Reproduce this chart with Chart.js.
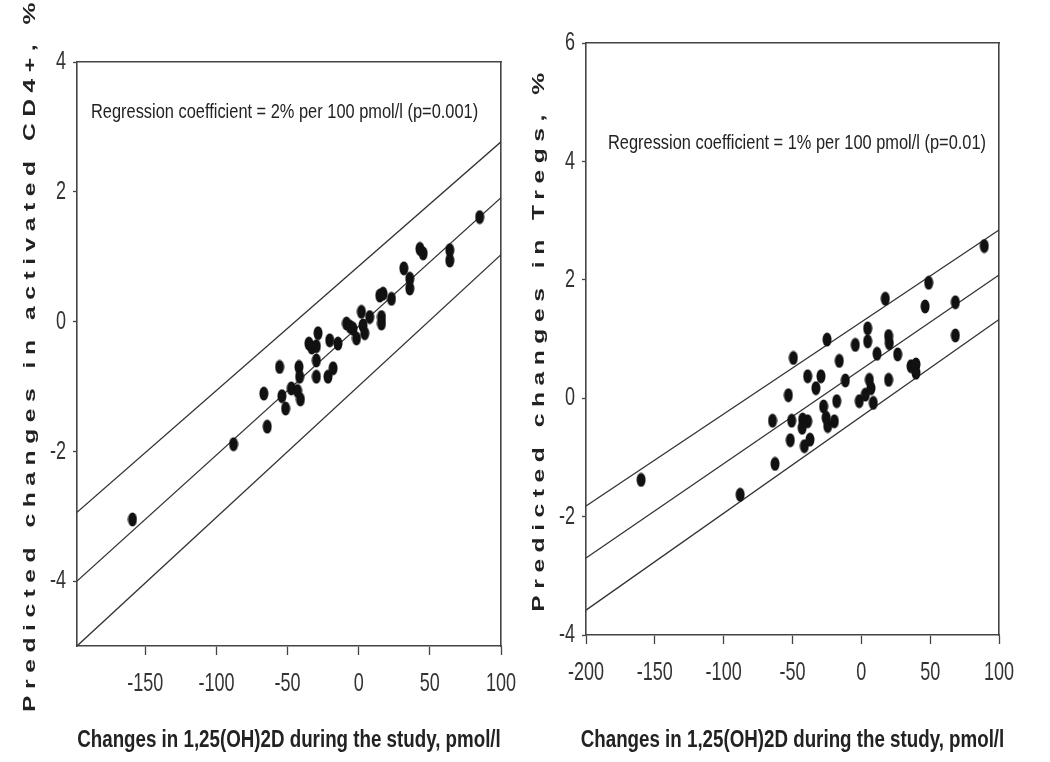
<!DOCTYPE html>
<html>
<head>
<meta charset="utf-8">
<script src="https://cdn.jsdelivr.net/npm/chart.js@4.4.1/dist/chart.umd.min.js"></script>
<style>
  html, body { margin: 0; padding: 0; background: #fff; }
  #wrap { position: relative; width: 1050px; height: 762px; }
  .panel { position: absolute; top: 0; width: 525px; height: 762px; }
  #p1 { left: 0; }
  #p2 { left: 525px; }
</style>
</head>
<body>
<div id="wrap">
  <div class="panel" id="p1"><canvas id="c1"></canvas></div>
  <div class="panel" id="p2"><canvas id="c2"></canvas></div>
</div>
<script>
// ---------- Data ----------
// Left panel: activated CD4+
const leftX = [-159, -88, -64.3, -66.7, -55.6, -54, -51.4, -47.4, -42, -43, -41, -41.5, -35, -33, -28.6, -29.8, -29.8, -29.8,
               -20.4, -14.6, -21.6, -18, -8.6, -6, -4, -1.6, 1.9, 3, 4.2, 7.7, 14.8, 16, 16, 17.1, 23, 31.7, 35.9, 35.9,
               43, 45.3, 64, 64, 85];
const leftY = [-3.05, -1.89, -1.62, -1.11, -0.70, -1.15, -1.34, -1.03, -0.70, -1.07, -1.2, -0.85, -0.34, -0.4, -0.18, -0.38, -0.6, -0.85,
               -0.29, -0.34, -0.85, -0.72, -0.03, -0.08, -0.11, -0.26, 0.15, -0.06, -0.18, 0.07, 0.4, 0.07, -0.03, 0.43, 0.35, 0.82, 0.51, 0.66,
               1.12, 1.05, 1.1, 0.94, 1.61];
const leftLineX  = [-198, 100];
const leftUpperY = [-2.94, 2.77];
const leftFitY   = [-4.0, 1.91];
const leftLowerY = [-5.0, 1.03];
const leftXTicks = [-150, -100, -50, 0, 50, 100];
const leftYTicks = [-4, -2, 0, 2, 4];

// Right panel: Tregs
const rightX = [-160, -88, -62.7, -64.5, -53, -49.4, -50.6, -51.6, -42.6, -39, -43, -41.4, -37.3, -39, -33, -29.3, -27.4, -25.6,
                -24.4, -24.9, -19.6, -17.9, -16, -11.6, -4.4, -1.5, 2.9, 5.8, 7, 8.7, 4.6, 4.6, 11.4, 17.4, 19.8, 20.3, 19.8,
                26.4, 36.1, 39.7, 39.7, 46.3, 48.9, 68.3, 68.3, 89.3];
const rightY = [-1.38, -1.63, -1.11, -0.38, 0.05, 0.68, -0.38, -0.71, -0.36, -0.39, -0.5, -0.81, -0.7, 0.37, 0.17, 0.37, -0.14, -0.33,
                -0.47, 0.99, -0.39, -0.05, 0.63, 0.3, 0.9, -0.05, 0.06, 0.31, 0.17, -0.08, 1.18, 0.96, 0.75, 1.68, 1.05, 0.93, 0.31,
                0.74, 0.54, 0.57, 0.43, 1.55, 1.95, 1.62, 1.06, 2.57];
const rightLineX  = [-200, 100];
const rightUpperY = [-1.82, 2.84];
const rightFitY   = [-2.70, 2.08];
const rightLowerY = [-3.58, 1.33];
const rightXTicks = [-200, -150, -100, -50, 0, 50, 100];
const rightYTicks = [-4, -2, 0, 2, 4, 6];

const xTitle = 'Changes in 1,25(OH)2D during the study, pmol/l';
const leftYTitle = 'Predicted changes in activated CD4+, %';
const rightYTitle = 'Predicted changes in Tregs, %';
const leftNote = 'Regression coefficient = 2% per 100 pmol/l (p=0.001)';
const rightNote = 'Regression coefficient = 1% per 100 pmol/l (p=0.01)';

// ---------- Styling ----------
const SANS = '"Liberation Sans", Arial, sans-serif';
const INK = '#222';
const AXIS = '#444';

function ellipseDot() {
  const c = document.createElement('canvas');
  c.width = 10; c.height = 15;
  const g = c.getContext('2d');
  g.fillStyle = '#111';
  g.beginPath();
  g.ellipse(5, 7.5, 4.5, 7, 0, 0, Math.PI * 2);
  g.fill();
  return c;
}
const DOT = ellipseDot();

function pts(xs, ys) { return xs.map((x, i) => ({ x: x, y: ys[i] })); }

// Draws text through a stretched frame (tall, narrow Arial Narrow look of the original)
function stretch(scale, method, sx, sy, spacing, dy) {
  const key = '_st_' + method;
  if (scale[key]) return;
  const orig = scale[method];
  const shift = dy || 0;
  scale[method] = function () {
    const ctx = this.ctx;
    const P = CanvasRenderingContext2D.prototype;
    ctx.save();
    if (spacing) { try { ctx.letterSpacing = spacing; } catch (e) {} }
    ctx.translate = function (x, y) { P.translate.call(this, x, y + shift); P.scale.call(this, sx, sy); };
    ctx.fillText = function (t, x, y) { P.fillText.call(this, t, x, y); };
    try { return orig.apply(this, arguments); }
    finally { delete ctx.translate; delete ctx.fillText; ctx.restore(); }
  };
  scale[key] = true;
}

const stretchPlugin = {
  id: 'stretchText',
  afterLayout(chart) {
    const x = chart.scales.x, y = chart.scales.y;
    stretch(x, 'drawLabels', 0.82, 1.2, null, 13);
    stretch(y, 'drawLabels', 0.82, 1.2);
    stretch(x, 'drawTitle', 0.815, 1.05);
    stretch(y, 'drawTitle', 1, 1.45, '4.5px');
  }
};

const notePlugin = {
  id: 'note',
  afterDatasetsDraw(chart, args, opts) {
    const ctx = chart.ctx, a = chart.chartArea;
    ctx.save();
    ctx.font = opts.size + 'px ' + SANS;
    ctx.fillStyle = INK;
    ctx.textAlign = 'left';
    ctx.textBaseline = 'middle';
    ctx.translate(a.left + opts.dx, a.top + opts.dy);
    ctx.scale(0.82, 1.05);
    ctx.fillText(opts.text, 0, 0);
    ctx.restore();
  }
};

function lineDs(xs, ys) {
  return {
    data: pts(xs, ys), showLine: true, pointRadius: 0, borderColor: '#333',
    borderWidth: 1.3, fill: false, tension: 0, order: 2
  };
}

function makeChart(id, cfg) {
  return new Chart(document.getElementById(id), {
    type: 'scatter',
    data: {
      datasets: [
        { data: pts(cfg.px, cfg.py), pointStyle: DOT, pointRadius: 5, backgroundColor: '#111', borderColor: '#111', order: 1 },
        lineDs(cfg.lx, cfg.lu),
        lineDs(cfg.lx, cfg.lf),
        lineDs(cfg.lx, cfg.ll)
      ]
    },
    options: {
      responsive: true,
      maintainAspectRatio: false,
      animation: false,
      events: [],
      layout: { padding: 0 },
      plugins: {
        legend: { display: false },
        tooltip: { enabled: false },
        note: { text: cfg.note, dx: cfg.noteDx, dy: cfg.noteDy, size: 20 }
      },
      scales: {
        x: {
          type: 'linear', position: 'bottom', min: cfg.xmin, max: cfg.xmax,
          afterBuildTicks: s => { s.ticks = cfg.xTicks.map(v => ({ value: v })); },
          afterFit: s => { s.height = cfg.xHeight; },
          grid: { display: true, drawOnChartArea: false, drawTicks: true, tickLength: 9, tickColor: AXIS, tickWidth: 1.3 },
          border: { display: true, color: AXIS, width: 1.6 },
          ticks: { color: '#333', font: { family: SANS, size: 22 }, padding: 0, maxRotation: 0, autoSkip: false },
          title: { display: true, text: xTitle, color: INK, font: { family: SANS, size: 23, weight: 'bold' }, padding: { top: 0, bottom: 8 } }
        },
        y: {
          type: 'linear', position: 'left', min: cfg.ymin, max: cfg.ymax,
          afterBuildTicks: s => { s.ticks = cfg.yTicks.map(v => ({ value: v })); },
          afterFit: s => { s.width = cfg.yWidth; },
          grid: { display: true, drawOnChartArea: false, drawTicks: true, tickLength: 4, tickColor: AXIS, tickWidth: 1.3 },
          border: { display: true, color: AXIS, width: 1.6 },
          ticks: { color: '#333', font: { family: SANS, size: 22 }, padding: 7, autoSkip: false },
          title: { display: true, text: cfg.yTitle, color: INK, font: { family: SANS, size: 17, weight: 'bold' }, padding: { top: cfg.yTitlePad, bottom: 0 } }
        },
        x2: {
          type: 'linear', position: 'top', min: cfg.xmin, max: cfg.xmax,
          afterFit: s => { s.height = cfg.padTop; },
          grid: { display: false, drawTicks: false },
          border: { display: true, color: AXIS, width: 1.6 },
          ticks: { display: false }
        },
        y2: {
          type: 'linear', position: 'right', min: cfg.ymin, max: cfg.ymax,
          afterFit: s => { s.width = cfg.padRight; },
          grid: { display: false, drawTicks: false },
          border: { display: true, color: AXIS, width: 1.6 },
          ticks: { display: false }
        }
      }
    },
    plugins: [notePlugin, stretchPlugin]
  });
}

makeChart('c1', {
  px: leftX, py: leftY, lx: leftLineX, lu: leftUpperY, lf: leftFitY, ll: leftLowerY,
  xmin: -198, xmax: 100, ymin: -5, ymax: 4, xTicks: leftXTicks, yTicks: leftYTicks,
  padTop: 62, padRight: 24, xHeight: 116, yWidth: 77, yTitle: leftYTitle, yTitlePad: 20,
  note: leftNote, noteDx: 14, noteDy: 50
});

makeChart('c2', {
  px: rightX, py: rightY, lx: rightLineX, lu: rightUpperY, lf: rightFitY, ll: rightLowerY,
  xmin: -200, xmax: 100, ymin: -4, ymax: 6, xTicks: rightXTicks, yTicks: rightYTicks,
  padTop: 43, padRight: 51, xHeight: 127, yWidth: 61, yTitle: rightYTitle, yTitlePad: 4,
  note: rightNote, noteDx: 22, noteDy: 100
});
</script>
</body>
</html>
